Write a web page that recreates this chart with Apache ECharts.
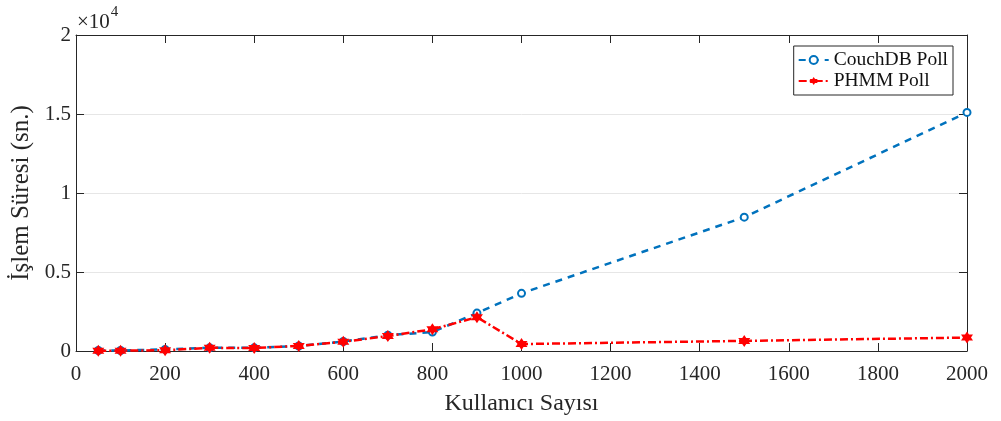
<!DOCTYPE html>
<html>
<head>
<meta charset="utf-8">
<script src="https://cdn.jsdelivr.net/npm/echarts@6/dist/echarts.min.js"></script>
<style>
  html, body { margin: 0; padding: 0; background: #fff; }
  #chart { width: 1001px; height: 421px; }
</style>
</head>
<body>
<div id="chart"></div>
<script>
// Number of users on the x axis
const users = [50, 100, 200, 300, 400, 500, 600, 700, 800, 900, 1000, 1500, 2000];
// Processing time (seconds) for each approach
const couchdbPoll = [30, 30, 100, 200, 200, 320, 600, 1000, 1200, 2400, 3650, 8470, 15100];
const phmmPoll = [20, 20, 50, 200, 190, 320, 580, 950, 1370, 2140, 440, 640, 850];
const seriesNames = ['CouchDB Poll', 'PHMM Poll'];
const xTicks = [0, 200, 400, 600, 800, 1000, 1200, 1400, 1600, 1800, 2000];
const yTicks = [0, 0.5, 1, 1.5, 2];

const FONT = '"Liberation Serif", "Times New Roman", serif';
const TEXT = '#262626';
const AXIS = '#262626';

const pairs = arr => users.map((u, i) => [u, arr[i]]);

const chart = echarts.init(document.getElementById('chart'), null, { renderer: 'canvas' });

const baseX = {
  type: 'value', min: xTicks[0], max: xTicks[xTicks.length - 1], interval: 200,
  axisLine: { show: true, onZero: false, lineStyle: { color: AXIS, width: 1 } },
  axisTick: { show: true, inside: true, length: 8, lineStyle: { color: AXIS } },
  splitLine: { show: false }
};
const baseY = {
  type: 'value', min: 0, max: yTicks[yTicks.length - 1] * 1e4, interval: 5000,
  axisLine: { show: true, onZero: false, lineStyle: { color: AXIS, width: 1 } },
  axisTick: { show: true, inside: true, length: 8, lineStyle: { color: AXIS } }
};

chart.setOption({
  animation: false,
  backgroundColor: '#fff',
  textStyle: { fontFamily: FONT },
  grid: { left: 76, right: 34, top: 35, bottom: 65, containLabel: false },
  legend: {
    orient: 'vertical',
    right: 48, top: 46,
    padding: [4, 5, 4, 4],
    itemGap: 1,
    itemWidth: 30, itemHeight: 10,
    backgroundColor: '#fff',
    borderColor: AXIS, borderWidth: 1, borderRadius: 0,
    textStyle: { fontFamily: FONT, fontSize: 19.5, color: '#111' },
    data: seriesNames
  },
  xAxis: [
    Object.assign({}, baseX, {
      position: 'bottom',
      name: 'Kullanıcı Sayısı', nameLocation: 'middle', nameGap: 41,
      nameTextStyle: { fontFamily: FONT, fontSize: 24, color: TEXT },
      axisLabel: { show: true, fontFamily: FONT, fontSize: 21, color: TEXT, margin: 13, formatter: v => String(v) }
    }),
    Object.assign({}, baseX, { position: 'top', axisLabel: { show: false } })
  ],
  yAxis: [
    Object.assign({}, baseY, {
      position: 'left',
      name: 'İşlem Süresi (sn.)', nameLocation: 'middle', nameGap: 39,
      nameTextStyle: { fontFamily: FONT, fontSize: 25, color: TEXT },
      axisLabel: {
        show: true, fontFamily: FONT, fontSize: 21, color: TEXT, margin: 5,
        formatter: v => String(v / 1e4)
      },
      splitLine: { show: true, lineStyle: { color: '#e6e6e6', width: 1 } }
    }),
    Object.assign({}, baseY, { position: 'right', axisLabel: { show: false }, splitLine: { show: false } })
  ],
  graphic: [{
    type: 'text', left: 77, top: 5,
    style: {
      text: '{m|×10}{s|4}',
      rich: {
        m: { fontFamily: FONT, fontSize: 21, fill: TEXT, verticalAlign: 'bottom', lineHeight: 28 },
        s: { fontFamily: FONT, fontSize: 15, fill: TEXT, verticalAlign: 'top', lineHeight: 28, padding: [0, 0, 12, 1] }
      }
    }
  }],
  series: [
    {
      name: seriesNames[0], type: 'line', data: pairs(couchdbPoll),
      symbol: 'emptyCircle', symbolSize: 7,
      itemStyle: { color: '#0072BD', borderWidth: 2.5 },
      lineStyle: { color: '#0072BD', width: 2.5, type: [7, 6] },
      z: 2
    },
    {
      name: seriesNames[1], type: 'line', data: pairs(phmmPoll),
      symbol: 'path://M0,-10 L2.9,-5 L8.7,-5 L5.8,0 L8.7,5 L2.9,5 L0,10 L-2.9,5 L-8.7,5 L-5.8,0 L-8.7,-5 L-2.9,-5 Z',
      symbolSize: 12,
      itemStyle: { color: '#FF0000' },
      lineStyle: { color: '#FF0000', width: 2.5, type: [8, 3, 2, 3] },
      z: 3
    }
  ]
});
</script>
</body>
</html>
